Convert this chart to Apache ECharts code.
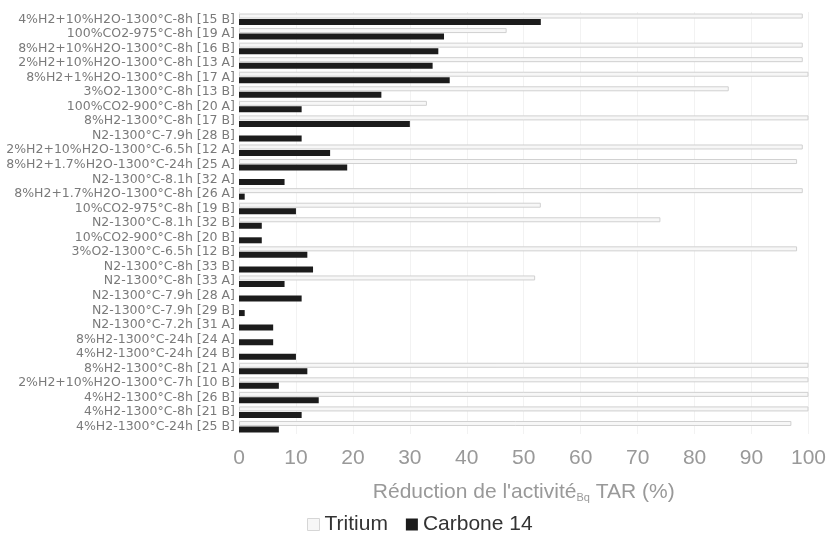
<!DOCTYPE html>
<html>
<head>
<meta charset="utf-8">
<script src="https://cdn.jsdelivr.net/npm/echarts@6/dist/echarts.min.js"></script>
<style>html,body{margin:0;padding:0;background:#fff;}#c{width:829px;height:542px;}</style>
</head>
<body>
<div id="c"></div>
<script>
const categories = [
  "4%H2+10%H2O-1300°C-8h [15 B]",
  "100%CO2-975°C-8h [19 A]",
  "8%H2+10%H2O-1300°C-8h [16 B]",
  "2%H2+10%H2O-1300°C-8h [13 A]",
  "8%H2+1%H2O-1300°C-8h [17 A]",
  "3%O2-1300°C-8h [13 B]",
  "100%CO2-900°C-8h [20 A]",
  "8%H2-1300°C-8h [17 B]",
  "N2-1300°C-7.9h [28 B]",
  "2%H2+10%H2O-1300°C-6.5h [12 A]",
  "8%H2+1.7%H2O-1300°C-24h [25 A]",
  "N2-1300°C-8.1h [32 A]",
  "8%H2+1.7%H2O-1300°C-8h [26 A]",
  "10%CO2-975°C-8h [19 B]",
  "N2-1300°C-8.1h [32 B]",
  "10%CO2-900°C-8h [20 B]",
  "3%O2-1300°C-6.5h [12 B]",
  "N2-1300°C-8h [33 B]",
  "N2-1300°C-8h [33 A]",
  "N2-1300°C-7.9h [28 A]",
  "N2-1300°C-7.9h [29 B]",
  "N2-1300°C-7.2h [31 A]",
  "8%H2-1300°C-24h [24 A]",
  "4%H2-1300°C-24h [24 B]",
  "8%H2-1300°C-8h [21 A]",
  "2%H2+10%H2O-1300°C-7h [10 B]",
  "4%H2-1300°C-8h [26 B]",
  "4%H2-1300°C-8h [21 B]",
  "4%H2-1300°C-24h [25 B]"
];
const tritium = [99, 47, 99, 99, 100, 86, 33, 100, null, 99, 98, null, 99, 53, 74, null, 98, null, 52, null, null, null, null, null, 100, 100, 100, 100, 97];
const carbone14 = [53, 36, 35, 34, 37, 25, 11, 30, 11, 16, 19, 8, 1, 10, 4, 4, 12, 13, 8, 11, 1, 6, 6, 10, 12, 7, 14, 11, 7];
const xTicks = [0, 10, 20, 30, 40, 50, 60, 70, 80, 90, 100];

const chart = echarts.init(document.getElementById('c'));
chart.setOption({
  animation: false,
  backgroundColor: '#fff',
  grid: { left: 239, right: 19, top: 12, bottom: 108, containLabel: false },
  legend: {
    bottom: 2, left: 302, icon: 'rect',
    itemWidth: 12, itemHeight: 12, itemGap: 18,
    textStyle: { fontFamily: 'Liberation Sans, Arial', fontSize: 21, color: '#333' },
    data: [
      { name: 'Tritium', itemStyle: { color: '#f7f7f7', borderColor: '#d6d6d6', borderWidth: 1 } },
      { name: 'Carbone 14', itemStyle: { color: '#1c1c1c' } }
    ]
  },
  xAxis: {
    type: 'value', min: 0, max: 100, interval: 10,
    axisLine: { show: false }, axisTick: { show: false },
    splitLine: { show: true, lineStyle: { color: '#f2f2f2', width: 1 } },
    axisLabel: { fontFamily: 'Liberation Sans, Arial', fontSize: 21, color: '#999', margin: 14,
      formatter: v => xTicks.includes(v) ? String(v) : '' },
    name: "{a|Réduction de l'activité}{s|Bq}{a| TAR (%)}",
    nameLocation: 'middle', nameGap: 48,
    nameTextStyle: {
      rich: {
        a: { fontFamily: 'Liberation Sans, Arial', fontSize: 21, color: '#999' },
        s: { fontFamily: 'Liberation Sans, Arial', fontSize: 11, color: '#999', verticalAlign: 'bottom', padding: [10, 0, 0, 0] }
      }
    }
  },
  yAxis: {
    type: 'category', data: categories, inverse: true,
    axisLine: { show: false }, axisTick: { show: false },
    axisLabel: { fontFamily: 'DejaVu Sans', fontSize: 12.5, color: '#7a7a7a', margin: 4, interval: 0 }
  },
  series: [
    { name: 'Tritium', type: 'bar', data: tritium, barWidth: 5, barGap: '10%',
      itemStyle: { color: '#f7f7f7', borderColor: '#d0d0d0', borderWidth: 1 } },
    { name: 'Carbone 14', type: 'bar', data: carbone14, barWidth: 6,
      itemStyle: { color: '#1c1c1c' } }
  ]
});
</script>
</body>
</html>
